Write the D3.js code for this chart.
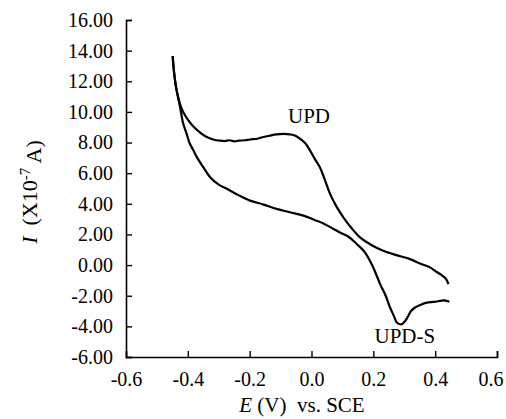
<!DOCTYPE html>
<meta charset="utf-8">
<style>
body { margin: 0; background: #fff; }
text { font-family: "Liberation Serif", "Times New Roman", serif; fill: #000; }
</style>
<body>
<script src="https://cdnjs.cloudflare.com/ajax/libs/d3/7.8.5/d3.min.js"></script>
<script>
    // scan 1: from -0.45 V to the positive end (UPD shelf)
    var scan1E = [-0.449, -0.447, -0.443, -0.438, -0.432, -0.425, -0.415, -0.400, -0.382, -0.360,
                  -0.339, -0.318, -0.296, -0.280, -0.265, -0.250, -0.235, -0.215, -0.199, -0.175,
                  -0.156, -0.135, -0.113, -0.090, -0.069, -0.052, -0.037, -0.020, -0.005, 0.010,
                  0.027, 0.044, 0.060, 0.080, 0.103, 0.130, 0.157, 0.195, 0.232, 0.275,
                  0.319, 0.351, 0.383, 0.405, 0.421, 0.435, 0.443];
    var scan1I = [13.64, 13.1, 12.3, 11.6, 11.0, 10.5, 10.0, 9.5, 9.05, 8.65,
                  8.36, 8.2, 8.12, 8.1, 8.15, 8.08, 8.12, 8.15, 8.2, 8.25,
                  8.36, 8.45, 8.53, 8.56, 8.53, 8.45, 8.25, 7.95, 7.49, 6.95,
                  6.39, 5.52, 4.65, 3.85, 3.12, 2.4, 1.81, 1.3, 0.94, 0.65,
                  0.39, 0.1, -0.15, -0.45, -0.65, -0.9, -1.24];

    // scan 2: back from the positive end (UPD-S peak) to -0.45 V
    var scan2E = [0.446, 0.430, 0.416, 0.395, 0.373, 0.352, 0.335, 0.322, 0.313, 0.303,
                  0.292, 0.284, 0.276, 0.266, 0.254, 0.240, 0.222, 0.205, 0.189, 0.170,
                  0.146, 0.120, 0.095, 0.071, 0.040, 0.010, -0.026, -0.070, -0.113, -0.155,
                  -0.199, -0.235, -0.274, -0.300, -0.328, -0.350, -0.368, -0.382, -0.395, -0.404,
                  -0.415, -0.425, -0.432, -0.438, -0.443, -0.447, -0.449];
    var scan2I = [-2.40, -2.30, -2.34, -2.40, -2.45, -2.60, -2.77, -3.0, -3.32, -3.65,
                  -3.86, -3.85, -3.75, -3.3, -2.77, -2.0, -1.24, -0.4, 0.28, 0.9,
                  1.38, 1.85, 2.1, 2.36, 2.7, 2.95, 3.23, 3.45, 3.67, 3.95,
                  4.21, 4.55, 4.98, 5.25, 5.74, 6.39, 6.95, 7.49, 8.0, 8.58,
                  9.24, 10.3, 11.0, 11.6, 12.3, 13.1, 13.64];

    var xTicks = [-0.6, -0.4, -0.2, 0.0, 0.2, 0.4, 0.6];
    var yTicks = [-6, -4, -2, 0, 2, 4, 6, 8, 10, 12, 14, 16];

    var peakLabels = ["UPD", "UPD-S"];
    var peakE = [-0.008, 0.302];
    var peakI = [9.25, -5.1];

    var margin = {top: 20, right: 9, bottom: 62, left: 126};
    var width = 506 - margin.left - margin.right;
    var height = 419 - margin.top - margin.bottom;

    var svg = d3.select("body").append("svg")
        .attr("width", 506)
        .attr("height", 419);

    var g = svg.append("g")
        .attr("transform", "translate(" + margin.left + "," + margin.top + ")");

    var x = d3.scaleLinear().domain([-0.6, 0.6]).range([0, width]);
    var y = d3.scaleLinear().domain([-6, 16]).range([height, 0]);

    // plain hyphen for negatives, like the original
    function fmt(p) {
        var f = d3.format("." + p + "f");
        return function(d) { return f(d).replace("\u2212", "-"); };
    }

    // axes with inward ticks
    var xAxis = g.append("g")
        .attr("transform", "translate(0," + height + ")")
        .call(d3.axisBottom(x).tickValues(xTicks).tickSize(-6).tickPadding(15)
            .tickFormat(fmt(1)));

    var yAxis = g.append("g")
        .call(d3.axisLeft(y).tickValues(yTicks).tickSize(-6).tickPadding(13)
            .tickFormat(fmt(2)));

    [xAxis, yAxis].forEach(function(a) {
        a.attr("font-family", null);
        a.select(".domain").attr("stroke", "#000").attr("stroke-width", 1.6);
        a.selectAll(".tick line").attr("stroke", "#000").attr("stroke-width", 1.4);
        a.selectAll("text")
            .style("font-family", "'Liberation Serif', serif")
            .style("font-size", "20px")
            .attr("fill", "#000");
    });
    xAxis.selectAll("text").attr("dy", "0.71em");
    // the last label sits flush against the right edge in the original
    xAxis.selectAll(".tick text")
        .filter(function(d) { return d === 0.6; })
        .attr("text-anchor", "end")
        .attr("x", 506 - margin.left - x(0.6) - 3);

    var line = d3.line()
        .x(function(d) { return x(d[0]); })
        .y(function(d) { return y(d[1]); })
        .curve(d3.curveCatmullRom);

    [[scan1E, scan1I], [scan2E, scan2I]].forEach(function(s) {
        var pts = s[0].map(function(e, i) { return [e, s[1][i]]; });
        g.append("path")
            .datum(pts)
            .attr("fill", "none")
            .attr("stroke", "#000")
            .attr("stroke-width", 2.2)
            .attr("stroke-linejoin", "round")
            .attr("d", line);
    });

    g.selectAll(".peak")
        .data(peakLabels)
        .enter().append("text")
        .attr("class", "peak")
        .attr("x", function(d, i) { return x(peakE[i]); })
        .attr("y", function(d, i) { return y(peakI[i]); })
        .attr("text-anchor", "middle")
        .style("font-size", "21px")
        .text(function(d) { return d; });

    // axis titles
    var xt = svg.append("text")
        .attr("x", 302)
        .attr("y", 412)
        .attr("text-anchor", "middle")
        .style("white-space", "pre")
        .style("font-size", "21px");
    xt.append("tspan").style("font-style", "italic").text("E");
    xt.append("tspan").text(" (V)  vs. SCE");

    var yt = svg.append("text")
        .attr("transform", "translate(37,192) rotate(-90)")
        .attr("text-anchor", "middle")
        .style("white-space", "pre")
        .style("font-size", "22px");
    yt.append("tspan").style("font-style", "italic").text("I");
    yt.append("tspan").text("  (X10");
    yt.append("tspan").attr("dy", "-0.5em").style("font-size", "15px").text("-7");
    yt.append("tspan").attr("dy", "0.5em").text(" A)");
</script>
</body>
